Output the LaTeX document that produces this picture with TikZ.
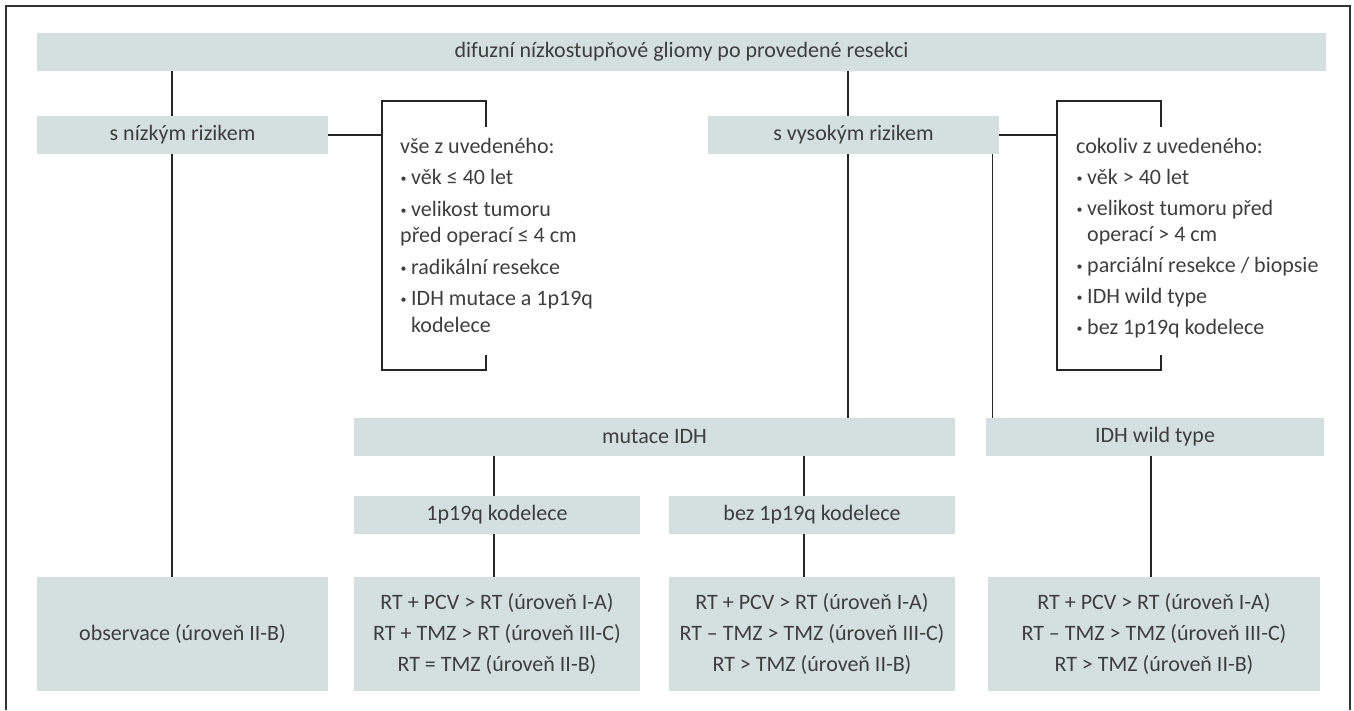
\documentclass[tikz,border=0pt]{standalone}
\usepackage{fontspec}
\setmainfont{Carlito}
\definecolor{boxfill}{RGB}{211,224,223}
\definecolor{ink}{RGB}{62,62,62}
\tikzset{
	box/.style={fill=boxfill, text=ink, inner sep=0pt, align=center,
			font=\fontsize{22}{31}\selectfont},
	conn/.style={draw=black!85, line width=1.1pt},
	crit/.style={text=ink, inner sep=0pt, align=left, anchor=north west,
			font=\fontsize{22}{26.5}\selectfont}
}
\newcommand{\bul}{\makebox[11pt][l]{\hspace{0.5pt}\raisebox{2pt}{\fontsize{12}{12}\selectfont •}}}

\begin{document}
\begin{tikzpicture}[x=1pt, y=-1pt]
        \useasboundingbox (0,0) rectangle (1354,710);
        \draw[line width=1.3pt, black!80] (6,710) -- (6,6) -- (1350,6) -- (1350,710);

        \node[box, minimum width=1289pt, minimum height=38pt] (G) at (681.5,52) {difuzní nízkostupňové gliomy po provedené resekci};
        \node[box, minimum width=291pt, minimum height=38pt] (L) at (182.5,135) {s nízkým rizikem};
        \node[box, minimum width=291pt, minimum height=38pt] (H) at (853.5,135) {s vysokým rizikem};
        \node[box, minimum width=601pt, minimum height=38pt] (M) at (654.5,437) {mutace IDH};
        \node[box, minimum width=338pt, minimum height=38pt] (W) at (1155,437) {IDH wild type};
        \node[box, minimum width=286pt, minimum height=38pt] (K) at (497,515) {1p19q kodelece};
        \node[box, minimum width=286pt, minimum height=38pt] (NK) at (812,515) {bez 1p19q kodelece};
        \node[box, minimum width=291pt, minimum height=114pt] (O) at (182.5,634) {observace (úroveň II-B)};
        \node[box, minimum width=286pt, minimum height=114pt] (T1) at (497,634) {RT + PCV > RT (úroveň I-A)\\RT + TMZ > RT (úroveň III-C)\\RT = TMZ (úroveň II-B)};
        \node[box, minimum width=286pt, minimum height=114pt] (T2) at (812,634) {RT + PCV > RT (úroveň I-A)\\RT – TMZ > TMZ (úroveň III-C)\\RT > TMZ (úroveň II-B)};
        \node[box, minimum width=332pt, minimum height=114pt] (T3) at (1154,634) {RT + PCV > RT (úroveň I-A)\\RT – TMZ > TMZ (úroveň III-C)\\RT > TMZ (úroveň II-B)};

        \node[crit] (LC) at (400,138) {vše z uvedeného:\\[5pt]
            \bul věk ≤ 40 let\\[5pt]
            \bul velikost tumoru\\
            před operací ≤ 4 cm\\[5pt]
            \bul radikální resekce\\[5pt]
            \bul IDH mutace a 1p19q\\
            \hspace*{11pt}kodelece};
        \node[crit] (HC) at (1076,138) {cokoliv z uvedeného:\\[4.5pt]
            \bul věk > 40 let\\[4.5pt]
            \bul velikost tumoru před\\
            \hspace*{11pt}operací > 4 cm\\[4.5pt]
            \bul parciální resekce / biopsie\\[4.5pt]
            \bul IDH wild type\\[4.5pt]
            \bul bez 1p19q kodelece};

        \coordinate (LB) at (382,101);
        \coordinate (HB) at (1057,101);
        \draw[conn] (L.east) -- (L.east -| LB);
        \draw[conn] (486,127) -- (486,101) -- (LB) -- (382,370) -- (486,370) -- (486,355);
        \draw[conn] (H.east) -- (H.east -| HB);
        \draw[conn] (1161,127) -- (1161,101) -- (HB) -- (1057,370) -- (1161,370) -- (1161,355);

        \draw[conn] ([xshift=-10.5pt]L.north) -- ([xshift=-10.5pt]L.north |- G.south);
        \draw[conn] ([xshift=-10.5pt]L.south) -- ([xshift=-10.5pt]L.south |- O.north);
        \draw[conn] ([xshift=-5.5pt]H.north) -- ([xshift=-5.5pt]H.north |- G.south);
        \draw[conn] ([xshift=-5.5pt]H.south) -- ([xshift=-5.5pt]H.south |- M.north);
        \draw[conn] ([xshift=7pt]W.north west) -- ([xshift=7pt]W.north west |- H.south);
        \draw[conn] ([xshift=-3pt]K.north) -- ([xshift=-3pt]K.north |- M.south);
        \draw[conn] ([xshift=-3pt]K.south) -- ([xshift=-3pt]K.south |- T1.north);
        \draw[conn] ([xshift=-8pt]NK.north) -- ([xshift=-8pt]NK.north |- M.south);
        \draw[conn] ([xshift=-8pt]NK.south) -- ([xshift=-8pt]NK.south |- T2.north);
        \draw[conn] ([xshift=-4pt]W.south) -- ([xshift=-4pt]W.south |- T3.north);
    \end{tikzpicture}
\end{document}
